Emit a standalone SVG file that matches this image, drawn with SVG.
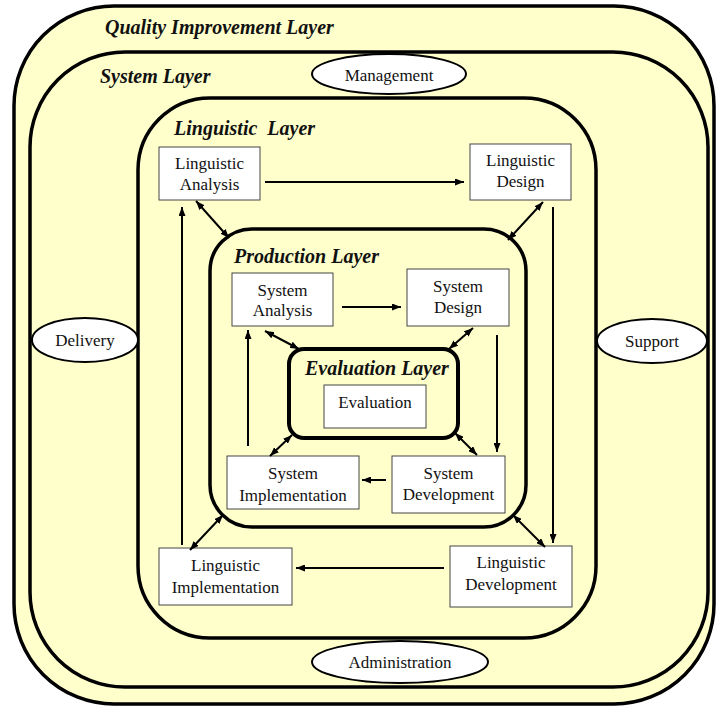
<svg xmlns="http://www.w3.org/2000/svg" width="716" height="708" viewBox="0 0 716 708">
<defs>
<marker id="ah" markerUnits="userSpaceOnUse" markerWidth="9" markerHeight="7" refX="9" refY="3.5" orient="auto-start-reverse">
<path d="M0,0 L9,3.5 L0,7 z" fill="#000"/>
</marker>
</defs>
<style>
.layer{fill:#FFFFCC;stroke:#000;stroke-width:3.5}
.box{fill:#fff;stroke:#444;stroke-width:1}
.ell{fill:#fff;stroke:#000;stroke-width:2}
.t{font-family:"Liberation Serif","Times New Roman",serif;font-size:17px;fill:#111;text-anchor:middle}
.lt{font-family:"Liberation Serif","Times New Roman",serif;font-size:20px;font-weight:bold;font-style:italic;fill:#111}
.c{stroke:#000;stroke-width:2;fill:none}
.one{marker-end:url(#ah)}
.two{marker-start:url(#ah);marker-end:url(#ah)}
</style>
<rect width="716" height="708" fill="#fff"/>
<g id="quality-layer">
<rect class="layer" x="14" y="6" width="700" height="698" rx="100" ry="100"/>
<text class="lt" x="105" y="34">Quality Improvement Layer</text>
</g>
<g id="system-layer">
<rect class="layer" x="30" y="52" width="678" height="635" rx="95" ry="95"/>
<text class="lt" x="100" y="83">System Layer</text>
</g>
<g id="linguistic-layer">
<rect class="layer" x="138" y="98" width="458" height="540" rx="72" ry="72"/>
<text class="lt" x="174" y="135" xml:space="preserve">Linguistic  Layer</text>
</g>
<g id="production-layer">
<rect class="layer" x="210" y="229" width="316" height="298" rx="42" ry="42"/>
<text class="lt" x="234" y="263">Production Layer</text>
</g>
<g id="evaluation-layer">
<rect class="layer" x="289" y="349" width="169" height="89" rx="15" ry="15" style="stroke-width:4"/>
<text class="lt" x="305" y="375">Evaluation Layer</text>
</g>
<g id="management">
<ellipse class="ell" cx="389" cy="74" rx="77" ry="20"/>
<text class="t" x="389" y="81">Management</text>
</g>
<g id="delivery">
<ellipse class="ell" cx="85" cy="340" rx="53" ry="22"/>
<text class="t" x="85" y="346">Delivery</text>
</g>
<g id="support">
<ellipse class="ell" cx="652" cy="341" rx="55" ry="22"/>
<text class="t" x="652" y="347">Support</text>
</g>
<g id="administration">
<ellipse class="ell" cx="400" cy="662" rx="88" ry="21"/>
<text class="t" x="400" y="668">Administration</text>
</g>
<g id="linguistic-analysis">
<rect class="box" x="159" y="147" width="101" height="53"/>
<text class="t" x="209.5" y="169">Linguistic</text>
<text class="t" x="209.5" y="190">Analysis</text>
</g>
<g id="linguistic-design">
<rect class="box" x="470" y="144" width="101" height="56"/>
<text class="t" x="520.5" y="166">Linguistic</text>
<text class="t" x="520.5" y="187">Design</text>
</g>
<g id="linguistic-implementation">
<rect class="box" x="159" y="548" width="133" height="57"/>
<text class="t" x="225.5" y="571">Linguistic</text>
<text class="t" x="225.5" y="593">Implementation</text>
</g>
<g id="linguistic-development">
<rect class="box" x="450" y="546" width="122" height="61"/>
<text class="t" x="511" y="568">Linguistic</text>
<text class="t" x="511" y="590">Development</text>
</g>
<g id="system-analysis">
<rect class="box" x="232" y="273" width="101" height="53"/>
<text class="t" x="282.5" y="296">System</text>
<text class="t" x="282.5" y="316">Analysis</text>
</g>
<g id="system-design">
<rect class="box" x="407" y="269" width="102" height="57"/>
<text class="t" x="458" y="292">System</text>
<text class="t" x="458" y="313">Design</text>
</g>
<g id="system-implementation">
<rect class="box" x="227" y="456" width="132" height="53"/>
<text class="t" x="293" y="479">System</text>
<text class="t" x="293" y="501">Implementation</text>
</g>
<g id="system-development">
<rect class="box" x="392" y="456" width="113" height="57"/>
<text class="t" x="448.5" y="479">System</text>
<text class="t" x="448.5" y="500">Development</text>
</g>
<g id="evaluation">
<rect class="box" x="324" y="385" width="102" height="43"/>
<text class="t" x="375" y="408">Evaluation</text>
</g>
<g id="connectors">
<line class="c one" x1="265" y1="182" x2="464" y2="182"/>
<line class="c two" x1="196" y1="201" x2="229" y2="238"/>
<line class="c one" x1="182" y1="545" x2="182" y2="207"/>
<line class="c two" x1="543" y1="202" x2="508" y2="240"/>
<line class="c one" x1="553" y1="207" x2="553" y2="543"/>
<line class="c two" x1="223" y1="515" x2="190" y2="550"/>
<line class="c two" x1="513" y1="515" x2="545" y2="547"/>
<line class="c one" x1="444" y1="568" x2="296" y2="568"/>
<line class="c one" x1="342" y1="307" x2="401" y2="307"/>
<line class="c one" x1="248" y1="446" x2="248" y2="330"/>
<line class="c two" x1="265" y1="331" x2="299" y2="349"/>
<line class="c two" x1="473" y1="328" x2="449" y2="349"/>
<line class="c one" x1="497" y1="335" x2="497" y2="452"/>
<line class="c two" x1="455" y1="433" x2="477" y2="455"/>
<line class="c two" x1="292" y1="435" x2="270" y2="456"/>
<line class="c one" x1="386" y1="480" x2="362" y2="480"/>
</g>
</svg>
